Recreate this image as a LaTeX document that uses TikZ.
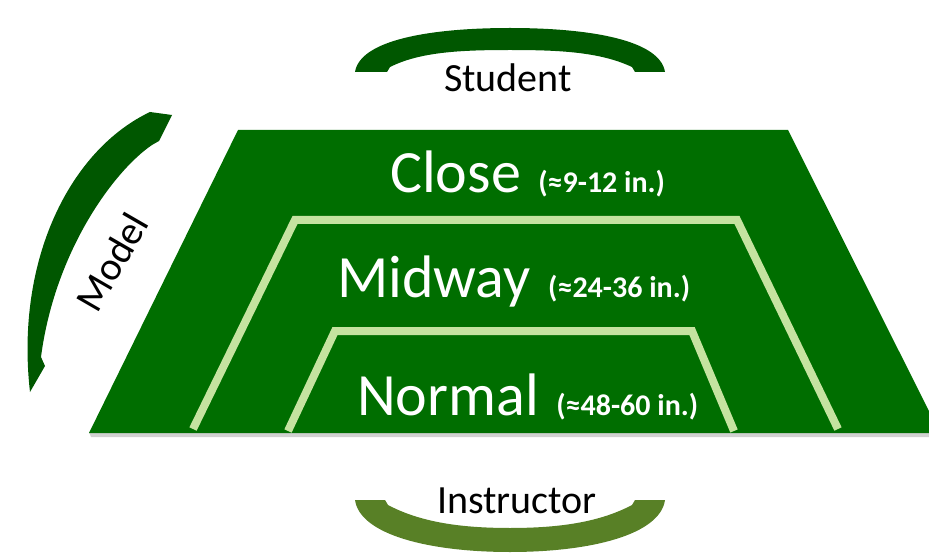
\documentclass[tikz,border=0pt]{standalone}
\usepackage{fontspec}
\setmainfont{Carlito}
\usetikzlibrary{positioning}
\definecolor{fieldgreen}{RGB}{0,110,0}
\definecolor{arcgreen}{RGB}{0,87,0}
\definecolor{olivearc}{RGB}{88,128,38}
\definecolor{paleline}{RGB}{197,227,160}

\begin{document}
\begin{tikzpicture}[x=1pt, y=-1pt,
    zonelabel/.style={font=\fontsize{60}{62}\selectfont, text=white, anchor=base west, inner sep=0pt},
    zonenote/.style={font=\fontsize{30}{32}\selectfont\bfseries, text=white, anchor=base west, inner sep=0pt},
    rolelabel/.style={font=\fontsize{40}{44}\selectfont, text=black, inner sep=0pt},
    zoneline/.style={paleline, line width=8pt, line join=miter}]
    \clip (0,0) rectangle (929,556);

    % Field
    \fill[black!18] (89,432) -- (940,432) -- (942,437) -- (91,437) -- cycle;
    \fill[fieldgreen] (238,130) -- (788,130) -- (940,433) -- (89,433) -- cycle;

    % Zone borders
    \draw[zoneline] (193,429) -- (295,220) -- (737,220) -- (838,429);
    \draw[zoneline] (288,431) -- (335,331) -- (692,331) -- (734,431);

    % Zone labels
    \foreach \name/\word/\note/\x/\y in {close/Close/(≈9-12 in.)/390/193, midway/Midway/(≈24-36 in.)/337/297, normal/Normal/(≈48-60 in.)/357/415} {
        \node[zonelabel] (\name) at (\x,\y) {\word};
        \node[zonenote] (\name note) at ([xshift=17pt]\name.base east) {\note};
    }

    % Student arc
    \fill[arcgreen] (355,72) -- (387,72) -- (390,67)
        .. controls (420,52) and (460,50) .. (510,50)
        .. controls (560,50) and (600,52) .. (632,67)
        -- (635,72) -- (665,72)
        .. controls (660,40) and (590,28) .. (510,28)
        .. controls (430,28) and (360,40) .. (355,72) -- cycle;
    \node[rolelabel] (student) at (508,78) {Student};

    % Instructor arc
    \fill[olivearc] (355,500) -- (385,500) -- (388,505)
        .. controls (420,522) and (460,528) .. (510,528)
        .. controls (560,528) and (600,522) .. (632,505)
        -- (635,500) -- (665,500)
        .. controls (660,535) and (590,552) .. (510,552)
        .. controls (430,552) and (360,535) .. (355,500) -- cycle;
    \node[rolelabel] (instructor) at (517,501) {Instructor};

    % Model arc
    \fill[arcgreen] (30,392) -- (45,366) -- (41,357)
        .. controls (55,250) and (115,170) .. (152,145)
        -- (159,141) -- (172,115) -- (150,112)
        .. controls (70,150) and (15,260) .. (30,392) -- cycle;
    \node[rolelabel, rotate=60] (model) at (112,262) {Model};
\end{tikzpicture}
\end{document}
